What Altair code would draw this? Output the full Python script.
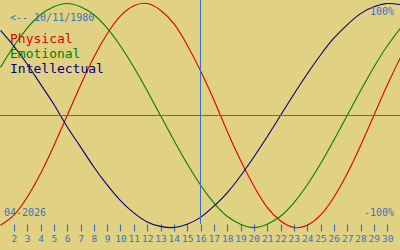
import altair as alt
import pandas as pd

days = list(range(1, 32))
physical = [-0.98, -0.89, -0.73, -0.52, -0.27, 0.00, 0.27, 0.52, 0.73, 0.89,
            0.98, 1.00, 0.94, 0.82, 0.63, 0.40, 0.14, -0.14, -0.40, -0.63,
            -0.82, -0.94, -1.00, -0.98, -0.89, -0.73, -0.52, -0.27, 0.00, 0.27, 0.52]
emotional = [0.43, 0.62, 0.78, 0.90, 0.97, 1.00, 0.97, 0.90, 0.78, 0.62,
             0.43, 0.22, 0.00, -0.22, -0.43, -0.62, -0.78, -0.90, -0.97, -1.00,
             -0.97, -0.90, -0.78, -0.62, -0.43, -0.22, 0.00, 0.22, 0.43, 0.62, 0.78]
intellectual = [0.76, 0.62, 0.46, 0.28, 0.10, -0.10, -0.28, -0.46, -0.62, -0.76,
                -0.87, -0.95, -0.99, -1.00, -0.97, -0.91, -0.81, -0.69, -0.54, -0.37,
                -0.19, 0.00, 0.19, 0.37, 0.54, 0.69, 0.81, 0.91, 0.97, 1.00, 0.99]
series_names = ["Physical", "Emotional", "Intellectual"]
series_colors = ["#e00000", "#008000", "#000080"]
tick_days = list(range(2, 31))
today = 16
birth_label = "<-- 10/11/1980"
month_label = "04-2026"

rows = []
for name, vals in zip(series_names, [physical, emotional, intellectual]):
    for d, v in zip(days, vals):
        rows.append({"day": d, "value": v, "series": name})
df = pd.DataFrame(rows)

BLUE = "#3a70c4"
MONO = "DejaVu Sans Mono"

xscale = alt.Scale(domain=[0.9625, 30.9625], nice=False, zero=False)
yscale = alt.Scale(domain=[-0.96875, 1.03125], nice=False, zero=False)

base = alt.Chart(df)

lines = base.mark_line(interpolate="natural", strokeWidth=1.1).encode(
    x=alt.X("day:Q", scale=xscale,
            axis=alt.Axis(values=tick_days, tickCount=len(tick_days), format="d",
                          title="", grid=False, domain=False,
                          tickSize=7, tickColor=BLUE, tickWidth=1.2,
                          labelColor=BLUE, labelOverlap=False,
                          labelFont=MONO, labelFontSize=9.5, labelPadding=2,
                          labelFlush=False)),
    y=alt.Y("value:Q", scale=yscale, axis=None),
    color=alt.Color("series:N", scale=alt.Scale(domain=series_names, range=series_colors),
                    legend=None),
)

zero_rule = alt.Chart(pd.DataFrame({"value": [0.0]})).mark_rule(color=BLUE, strokeWidth=1).encode(
    y=alt.Y("value:Q", scale=yscale, axis=None)
)
today_rule = alt.Chart(pd.DataFrame({"day": [today]})).mark_rule(color=BLUE, strokeWidth=1).encode(
    x=alt.X("day:Q", scale=xscale)
)

def label(text, x, y, color, size, align="left"):
    return alt.Chart(pd.DataFrame({"t": [text]})).mark_text(
        font=MONO, fontSize=size, color=color, align=align, baseline="alphabetic"
    ).encode(x=alt.value(x), y=alt.value(y), text="t:N")

texts = [
    label(birth_label, 10, 21, BLUE, 10),
    label(series_names[0], 10, 43, series_colors[0], 13),
    label(series_names[1], 10, 58, series_colors[1], 13),
    label(series_names[2], 10, 73, series_colors[2], 13),
    label("100%", 394, 15, BLUE, 10, "right"),
    label("-100%", 394, 216, BLUE, 10, "right"),
    label(month_label, 4, 216, BLUE, 10),
]

chart = alt.layer(lines, zero_rule, today_rule, *texts).properties(
    width=400, height=224,
    autosize=alt.AutoSizeParams(type="none"),
    padding={"left": 0, "right": 0, "top": 0, "bottom": 26},
    background="#e0d282",
).configure_view(strokeOpacity=0)

chart.save("out.html", embed_options={"renderer": "svg", "actions": False})
